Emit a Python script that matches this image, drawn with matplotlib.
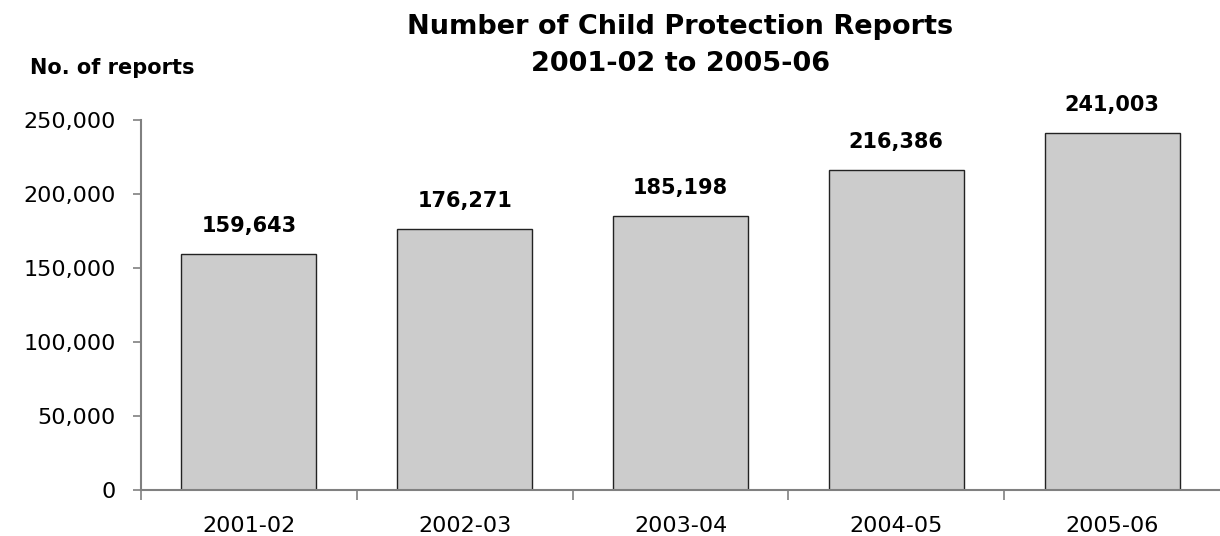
import matplotlib.pyplot as plt
from matplotlib.ticker import FuncFormatter, FixedLocator

YEARS = ["2001-02", "2002-03", "2003-04", "2004-05", "2005-06"]
REPORTS = [159643, 176271, 185198, 216386, 241003]
Y_TICKS = [0, 50000, 100000, 150000, 200000, 250000]
TITLE = ["Number of Child Protection Reports", "2001-02 to 2005-06"]

plt.rcParams["font.family"] = ["DejaVu Sans"]

fig = plt.figure(figsize=(12.2, 5.36), dpi=100)
ax = fig.add_axes([0.1156, 0.0858, 0.8844, 0.6903])

pos = list(range(len(YEARS)))
bars = ax.bar(pos, REPORTS, width=0.625, color="#cccccc",
              edgecolor="#222222", linewidth=1.0, zorder=2)

for b, v in zip(bars, REPORTS):
    ax.annotate(f"{v:,}", (b.get_x() + b.get_width() / 2, v),
                xytext=(0, 13), textcoords="offset points",
                ha="center", va="bottom", fontsize=15, fontweight="bold")

ax.set_xlim(-0.5, len(YEARS) - 0.5)
ax.set_ylim(0, 250000)
ax.set_yticks(Y_TICKS)
ax.yaxis.set_major_formatter(FuncFormatter(lambda v, _: f"{int(v):,}"))

# year labels under bar centres, tick marks between categories
ax.set_xticks(pos)
ax.set_xticklabels(YEARS)
ax.xaxis.set_minor_locator(FixedLocator([p - 0.5 for p in pos]))
ax.tick_params(axis="x", which="major", length=0, pad=19, labelsize=16)
ax.tick_params(axis="x", which="minor", length=7, width=1.2, color="#808080",
               direction="out")
ax.tick_params(axis="y", length=6, width=1.2, color="#808080", pad=12,
               labelsize=16)

for side in ["top", "right"]:
    ax.spines[side].set_visible(False)
for side in ["left", "bottom"]:
    ax.spines[side].set_color("#808080")
    ax.spines[side].set_linewidth(1.5)

for line, y in zip(TITLE, [0.949, 0.880]):
    fig.text(0.5575, y, line, ha="center", va="center",
             fontsize=19.5, fontweight="bold")
fig.text(0.025, 0.873, "No. of reports", ha="left", va="center",
         fontsize=15, fontweight="bold")

fig.savefig("out.png", dpi=100)
